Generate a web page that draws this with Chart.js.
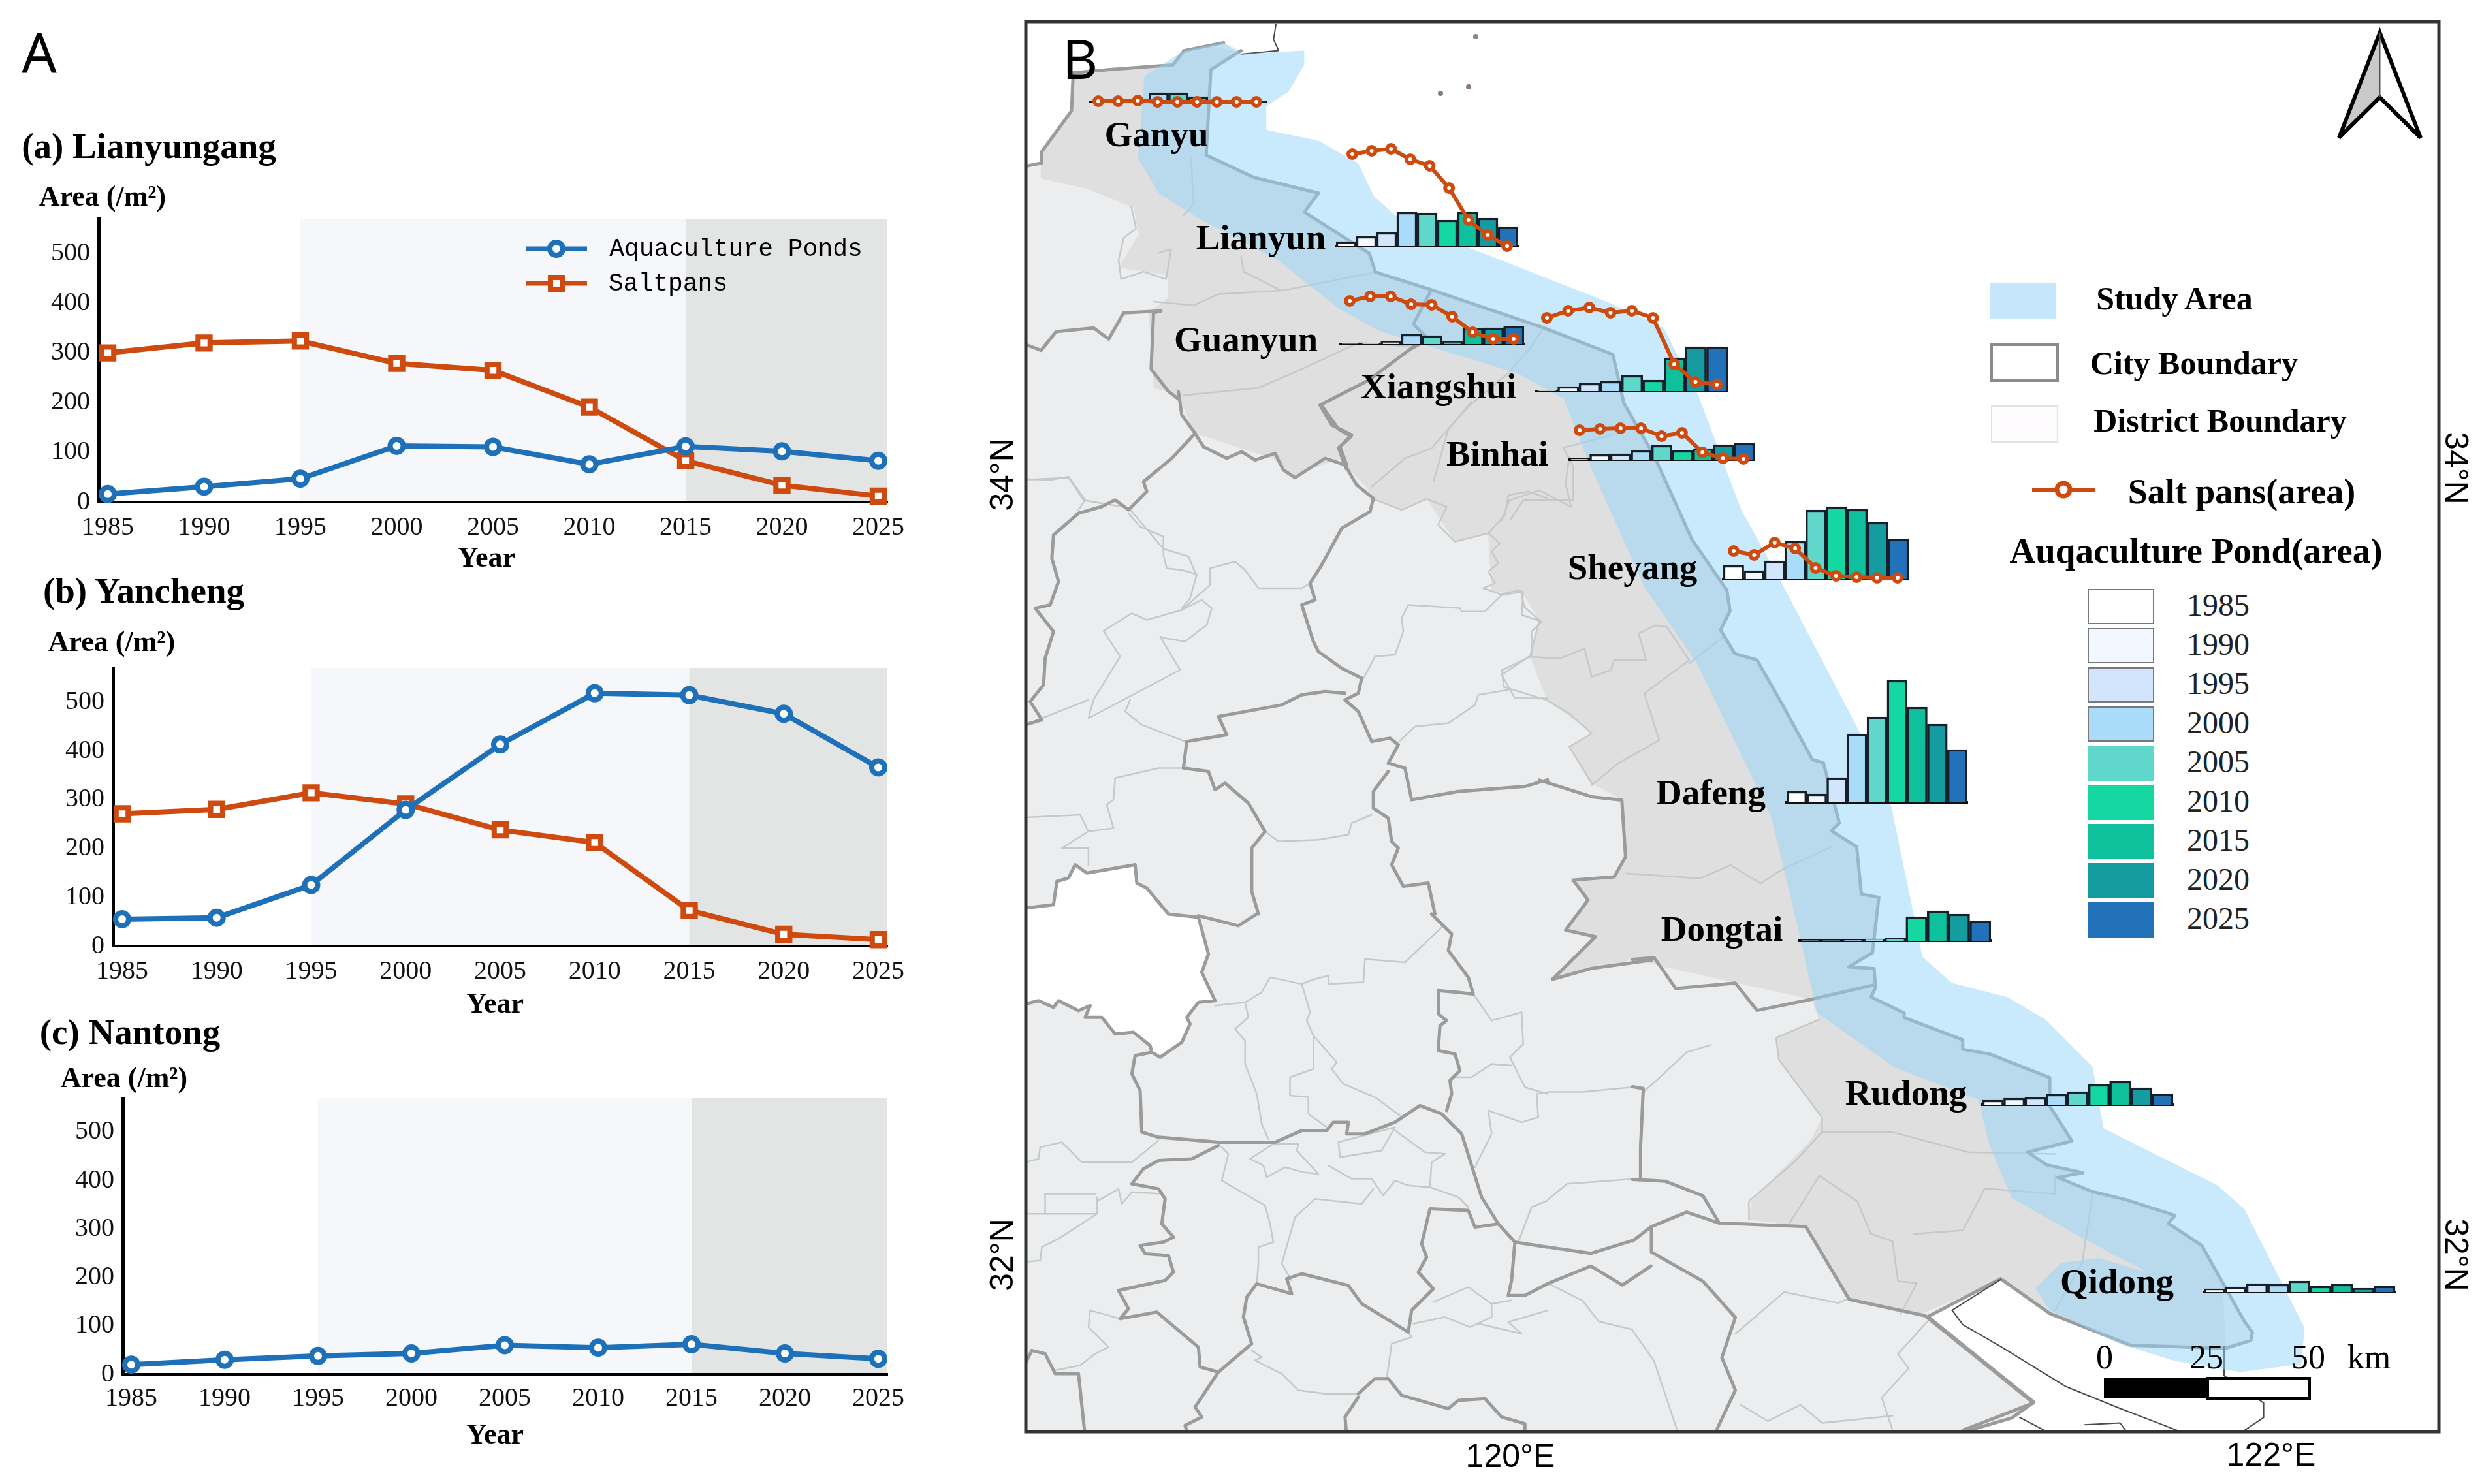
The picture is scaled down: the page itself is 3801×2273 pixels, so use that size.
<!DOCTYPE html>
<html>
<head>
<meta charset="utf-8">
<title>Aquaculture ponds and salt pans</title>
<script src="https://cdn.jsdelivr.net/npm/chart.js@4/dist/chart.umd.min.js"></script>
<style>
html,body{margin:0;padding:0;background:#fff;}
#page{position:relative;width:3801px;height:2273px;overflow:hidden;background:#fff;}
#page canvas,#page svg{position:absolute;}
.t{position:absolute;white-space:nowrap;color:#000;transform:translate(-50%,-50%);line-height:1;}
</style>
</head>
<body>
<div id="page"></div>
<script>
// line chart data
const years = [1985,1990,1995,2000,2005,2010,2015,2020,2025];
const areaTicks = [0,100,200,300,400,500];
const lianyungangPonds = [16,31,47,113,111,76,112,102,83];
const lianyungangSalt = [300,320,324,279,265,191,83,34,12];
const yanchengPonds = [55,58,125,279,413,518,514,476,366];
const yanchengSalt = [271,280,314,291,238,212,73,24,13];
const nantongPonds = [20,30,38,43,60,55,62,43,32];

// inset data on the map (relative area)
const ganyuPonds = [0.5,1,3,14,14,8,1,0.5,0.5];
const ganyuSalt = [1,1,2,0,0,0,0,0,0];
const lianyunPonds = [7,15,21,52,51,40,52,43,30];
const lianyunSalt = [141,146,149,133,123,89,40,17,0];
const guanyunPonds = [0.5,1,4,15,13,4,24,25,27];
const guanyunSalt = [66,73,73,61,60,42,18,8,8];
const xiangshuiPonds = [1,7,12,15,24,17,51,68,68];
const xiangshuiSalt = [112,123,128,120,123,112,41,14,10];
const binhaiPonds = [1,8,9,14,22,14,17,23,25];
const binhaiSalt = [45,47,48,48,36,41,11,2,1];
const sheyangPonds = [21,13,28,58,106,111,107,87,61];
const sheyangSalt = [43,37,56,47,17,5,3,2,2];
const dafengPonds = [17,13,38,105,131,187,146,120,81];
const dongtaiPonds = [0.5,0.5,1,3,4,37,46,41,30];
const rudongPonds = [7,10,11,16,20,31,36,26,16];
const qidongPonds = [5,8,13,12,17,9,12,6,9];

const rampColors = ['#ffffff','#f3f7ff','#d2e5fd','#aadbf8','#5fd8cb','#14d7a2','#0fc09c','#149ca0','#2272ba'];
const BLUE = '#1e70b8', ORANGE = '#cf4a0e';
const SERIF = '"Liberation Serif"';

const page = document.getElementById('page');

function text(str,x,y,font,extra){
  const d = document.createElement('div');
  d.className = 't';
  d.textContent = str;
  d.style.left = x+'px';
  d.style.top = y+'px';
  d.style.font = font;
  if(extra) Object.assign(d.style,extra);
  page.appendChild(d);
}

function addCanvas(x,y,w,h){
  const c = document.createElement('canvas');
  c.width = w; c.height = h;
  c.style.left = x+'px'; c.style.top = y+'px';
  c.style.width = w+'px'; c.style.height = h+'px';
  page.appendChild(c);
  return c;
}

// shaded periods behind the line charts, painted before the axes
const bands = {
  id:'bands',
  beforeDraw(chart){
    const {ctx,chartArea:a,scales:{x}} = chart;
    const x1 = x.getPixelForValue(1995), x2 = x.getPixelForValue(2015);
    ctx.save();
    ctx.fillStyle = '#f6f7fb';
    ctx.fillRect(x1,a.top,x2-x1,a.bottom-a.top);
    ctx.fillStyle = '#e3e5e5';
    ctx.fillRect(x2,a.top,a.right-x2,a.bottom-a.top);
    ctx.restore();
  }
};

function lineChart(area,series){
  const padTop = 30, under = 70, right = 1420;
  const c = addCanvas(0,area.top-padTop,right,area.base-area.top+padTop+under);
  const perYear = (area.last-area.first)/40;
  return new Chart(c,{
    type:'line',
    data:{datasets:series.map(s=>({
      label:s.label,
      data:years.map((y,i)=>({x:y,y:s.values[i]})),
      borderColor:s.color,
      borderWidth:8,
      pointStyle:s.shape,
      pointRadius:s.shape==='rect'?13:10,
      pointBorderWidth:8,
      pointBackgroundColor:'#fff',
      pointBorderColor:s.color,
      clip:false,
      tension:0
    }))},
    plugins:[bands],
    options:{
      responsive:false,animation:false,devicePixelRatio:1,
      layout:{padding:{top:padTop,right:right-1359,left:0,bottom:0}},
      plugins:{legend:{display:false},tooltip:{enabled:false}},
      scales:{
        x:{
          type:'linear',
          min:1985-(area.first-area.axis)/perYear,
          max:2025+(1359-area.last)/perYear,
          afterBuildTicks:s=>{s.ticks = years.map(v=>({value:v}));},
          afterFit:s=>{s.height = under;},
          grid:{display:false,drawTicks:false},
          border:{color:'#000',width:4},
          ticks:{color:'#111',font:{family:SERIF,size:40},padding:area.tickPad,maxRotation:0,autoSkip:false,callback:v=>String(v)}
        },
        y:{
          min:0,max:570,
          afterBuildTicks:s=>{s.ticks = areaTicks.map(v=>({value:v}));},
          afterFit:s=>{s.width = area.axis;},
          grid:{display:false,drawTicks:false},
          border:{color:'#000',width:5},
          ticks:{color:'#111',font:{family:SERIF,size:40},padding:13,callback:v=>String(v)}
        }
      }
    }
  });
}

lineChart({top:328,base:769,axis:151,first:165,last:1345,tickPad:15},[
  {label:'Aquaculture Ponds',values:lianyungangPonds,color:BLUE,shape:'circle'},
  {label:'Saltpans',values:lianyungangSalt,color:ORANGE,shape:'rect'}
]);
lineChart({top:1016,base:1449,axis:173,first:187,last:1345,tickPad:15},[
  {label:'Aquaculture Ponds',values:yanchengPonds,color:BLUE,shape:'circle'},
  {label:'Saltpans',values:yanchengSalt,color:ORANGE,shape:'rect'}
]);
lineChart({top:1675,base:2105,axis:188,first:201,last:1345,tickPad:13},[
  {label:'Aquaculture Ponds',values:nantongPonds,color:BLUE,shape:'circle'}
]);

// map, coordinates in a few local frames
const frames = {
  t:[0,0,2.424,2.424],
  z3:[1560,20,.7653,.574],
  z4:[2300,700,.574,.5102],
  z6:[2500,1400,.8297,.5568],
  z7:[1570,600,.5102,.5102],
  z8:[1570,1400,.5102,.5102]
};
function pts(frame,str){
  const f = frames[frame];
  return str.trim().split(/\s+/).map(p=>{
    const [x,y] = p.split(',').map(Number);
    return (f[0]+x*f[2]).toFixed(1)+','+(f[1]+y*f[3]).toFixed(1);
  }).join(' ');
}

const coast = '784,32 765,44 762,98 792,112 833,122 824,134 865,160 869,172 904,183 975,207 1019,224 1026,255 1045,288 1069,341 1091,373 1093,386 1087,398 1096,413 1110,417 1126,445 1145,480 1152,482 1162,520 1157,525 1173,535 1176,565 1187,567 1183,602 1168,611 1184,612 1185,624 1182,630 1203,640 1203,643 1240,657 1240,663 1257,666 1295,681 1295,699 1309,721 1281,728 1293,736 1316,741 1300,744 1322,753 1343,758 1374,768 1370,773 1391,787 1418,835 1423,842 1422,847 1406,852';
const landTop = '648,105 658,103 658,96 677,70 678,46 700,44 741,41 748,32 773,27';
const estuary = '1406,852 1346,850 1295,830 1264,808 1218,832 1285,886 1271,896 1240,905';
const studyArea = '784,34 824,32 824,41 814,58 800,67 800,82 833,89 858,103 868,124 887,141 937,160 1016,191 1051,207 1073,250 1100,322 1126,369 1174,461 1195,510 1214,602 1215,605 1233,621 1268,630 1292,644 1322,674 1329,713 1401,749 1418,764 1456,839 1454,862 1415,867 1374,860 1339,849 1295,828 1286,814 1302,798 1326,795 1357,804 1315,782 1271,757 1257,724 1250,695 1196,674 1148,640 1134,578 1119,516 1072,419 1039,371 1004,293 988,252 959,236 871,209 846,195 808,165 754,136 732,122 719,100 723,48 748,32 773,27';
const coastalCounties = '1644,112 1594,232 1594,273 1667,290 1736,318 1744,359 1713,410 1789,422 1789,456 1759,479 1767,594 1805,605 1828,663 1950,703 1977,729 2050,703 2095,749 2103,763 2147,781 2185,764 2228,830 2279,817 2284,906 2330,906 2357,950 2343,1006 2369,1072 2438,1123 2403,1144 2438,1200 2484,1225 2489,1312 2472,1343 2409,1348 2432,1379 2398,1424 2443,1435 2377,1500 2500,1470 2774,1531 2786,1561 2720,1589 2724,1623 2790,1712 2774,1745 2682,1840 2678,1868 2765,1879 2832,1990 2944,2012 3064,1960 3137,2010 3264,2060 3409,2065 3400,1900 3000,1000 2500,300 2000,100 1800,60';
const lake = '0,-18 85,-28 95,-98 130,-108 150,-148 185,-123 330,-148 335,-93 365,-78 430,0 520,10 550,120 530,175 570,260 520,265 485,310 495,330 470,385 405,430 380,415 375,395 325,355 270,360 230,310 180,310 195,275 160,290 100,260 85,280 40,260 0,270';

const cityLines = [
  ['z7','460,0 470,70 510,125 440,200 355,270 365,300 310,355 270,325 230,345 160,365 85,430 80,500 100,570 75,640 30,650 85,720 60,800 55,880 15,930 50,985 0,1000'],
  ['z7','510,125 535,165 605,200 650,180 690,205 750,185 775,235 810,258 900,200 960,220 995,280 1045,320 1035,360 950,410 890,520 855,575 870,625 830,640 865,750 880,780 950,830 1010,860 1000,905 960,925 1000,960 1040,1050 1095,1040 1120,1060 1090,1115 1140,1130 1160,1225 1300,1200 1500,1185 1568,1165'],
  ['z7','885,40 920,100 980,130 945,165 965,220'],
  ['z7','960,905 900,900 830,910 770,940 580,975 605,1030 485,1050 475,1130 550,1140 570,1195 600,1175 670,1235 720,1320 680,1370 680,1500 700,1568'],
  ['z7','1090,1140 1045,1200 1045,1250 1090,1280 1100,1350 1120,1370 1100,1420 1135,1485 1210,1475 1230,1568'],
  ['z4','100,970 240,1020 320,1030 330,1200 300,1260 190,1270 230,1330 170,1420 250,1440 135,1568'],
  ['z4','135,1568 240,1535 400,1510'],
  ['z8','520,5 640,35 695,0'],
  ['z8','380,415 330,425 320,480 345,530 350,655 400,670 580,685 750,685 830,650 905,650 925,625 970,625 965,660 1020,660 1110,625 1185,575 1250,600 1310,660 1370,850 1420,930 1470,985 1568,1000'],
  ['t','978,788 1005,792 1031,784'],
  ['z8','580,695 500,735 400,740 355,765 320,810 400,825 420,855 410,930 445,970 415,985 345,995 360,1020 430,1025 445,1075 420,1100 280,1130 310,1185 285,1215 395,1195 520,1300 525,1360 580,1375 680,1290 655,1210 665,1150 695,1110 800,1140 785,1095 830,1080 970,1115 1010,1170 1150,1255 1160,1190 1225,1125 1180,1075 1205,1030 1190,990 1215,885 1330,890 1350,940 1420,930'],
  ['z8','1470,985 1460,1100 1450,1145 1500,1145 1568,1110'],
  ['t','978,811 1005,800 1025,812 1043,800'],
  ['z8','580,1375 510,1480 530,1510 480,1535 490,1568'],
  ['z8','0,1350 20,1310 60,1320 90,1380 160,1380 180,1568'],
  ['z8','1000,1450 960,1510 965,1568'],
  ['z8','1000,1440 1050,1395 1090,1395 1130,1445 1270,1485 1300,1460 1380,1455 1430,1510 1500,1530 1500,1568'],
  ['z8','1220,0 1280,60 1270,110 1330,190 1345,240 1300,235 1240,230 1240,300 1265,320 1245,335 1240,410 1290,420 1305,470 1275,500 1280,540 1265,590'],
  ['z6','0,125 40,120 80,205 190,190 230,265 330,235 445,195'],
  ['z6','0,730 60,735 130,775 160,850 320,860 400,1060 540,1105 740,1345 610,1420'],
  ['z6','0,900 35,860 100,820 160,850'],
  ['z6','35,860 35,930 130,1010 190,1110 165,1220 190,1310 155,1420'],
  ['z6','0,475 20,480 15,640 15,730'],
  ['z3','270,800 285,795 210,800 180,870 150,840 75,850 45,900 15,885'],
  ['z3','270,800 265,950 300,1010 320,1030'],
  ['z3','790,890 700,980 605,1045 640,1110 665,1130 640,1160 655,1215'],
  ['z3','825,740 790,830 820,870 780,900'],
  ['t',landTop],
  ['t',coast],
  ['t',estuary]
];

const districtLines = [
  ['z7','0,262 75,265 130,255 180,325 160,355'],
  ['z7','310,365 345,405 415,435 415,490 425,530 470,535 515,548 495,620 470,650'],
  ['z7','470,655 555,580 555,530 630,510 660,535 700,590 830,590 855,575'],
  ['z7','235,718 320,665 365,685 470,655 530,625 560,650 545,700 480,750 420,740 405,735 465,835 190,980 205,925 285,795 235,718'],
  ['z7','0,1000 190,925'],
  ['z7','315,925 300,960 350,1000 480,1050'],
  ['z7','1040,320 1130,355 1205,322 1265,345 1240,400 1290,450 1390,425 1425,455 1400,480 1420,515 1390,540 1410,575 1375,590 1435,610 1495,600 1490,670 1550,690 1520,720 1520,790 1430,850 1470,920 1568,920'],
  ['z7','1430,610 1380,660 1310,660 1305,650 1150,640 1130,680 1135,720 1110,790 1050,795 1015,860'],
  ['z7','1125,1048 1170,1005 1270,995 1350,940 1360,910 1450,895'],
  ['z7','270,1160 400,1130 470,1130'],
  ['z7','270,1160 265,1225 245,1240 265,1310 190,1320 165,1270 0,1278'],
  ['z7','190,1320 110,1370 190,1370 190,1420'],
  ['z7','720,1320 760,1350 880,1345 970,1330 980,1295 1040,1270'],
  ['z7','1390,425 1440,370 1450,310 1510,300 1568,320'],
  ['z7','1040,285 1140,200 1220,170 1340,30'],
  ['z4','0,410 50,400 60,450 100,490 75,600'],
  ['z4','75,600 0,640 5,690 120,730 180,770 240,830 180,870 240,980'],
  ['z4','75,600 155,605 220,575 240,660 290,640 300,610 385,610 365,530 410,505 440,510 500,610 380,710 420,850 310,920 240,985'],
  ['z4','180,0 170,80 185,150 100,100 20,130 0,190'],
  ['z4','500,620 590,540'],
  ['z4','330,1250 530,1265 610,1225 690,1280 745,1240 880,1170'],
  ['z8','570,275 660,265 670,310 630,345 660,380 660,450 695,540 710,630 730,675'],
  ['z8','660,265 710,235 735,190 830,210 870,195 910,185 910,210 1015,205 1020,135 1140,145 1250,40'],
  ['z8','830,210 855,295 845,320 865,365 935,445 920,465 955,510 1050,550 1125,605'],
  ['z8','865,365 865,465 795,490 795,545 850,550 850,600 905,640'],
  ['z8','1110,640 1070,710 945,730 940,685 1110,640'],
  ['z8','1110,650 1200,715 1260,720 1220,745 1215,820'],
  ['z8','590,700 610,720 590,800 650,835 720,875 735,930 745,985 700,1000 700,1050 695,1110'],
  ['z8','675,735 745,690 820,690 815,710 880,780 835,775 780,760 725,790 715,755 675,735'],
  ['z8','910,755 980,795 1040,795 1075,845 1110,800 1150,815 1215,820 1300,850 1330,880'],
  ['z8','1045,825 1010,870 870,855 810,910 770,1050 800,1100'],
  ['z8','0,745 40,735 45,700 110,685 170,745 320,745 400,680'],
  ['z8','0,900 215,900 215,850'],
  ['z8','215,900 100,975 50,1000 45,1040 0,1045'],
  ['z8','60,900 60,840 210,840'],
  ['z8','220,860 280,825 290,870 320,835 410,840'],
  ['z8','285,1215 195,1190 190,1240 250,1300 210,1320 165,1355 90,1370'],
  ['z8','680,1310 710,1330 690,1340 770,1380 820,1430 900,1440 1005,1440'],
  ['z8','1085,1395 1100,1290 1160,1270 1150,1255'],
  ['z8','1225,1165 1330,1120 1400,1170 1460,1160'],
  ['z8','1165,1230 1260,1210 1335,1240 1400,1210 1400,1170'],
  ['z8','1360,1230 1490,1260 1450,1225 1568,1190'],
  ['z8','1345,240 1400,320 1490,295 1495,390 1455,430 1500,520 1568,540'],
  ['z8','1290,490 1340,490 1400,450 1460,455'],
  ['z8','1350,760 1400,660 1390,590 1490,625 1540,610 1535,540 1568,535'],
  ['z8','1480,985 1520,880 1568,860'],
  ['t','978,690 1000,690 1031,687'],
  ['t','978,758 990,748 1031,745'],
  ['t','978,811 1000,822 1010,835 1031,840 1045,860 1060,905'],
  ['z6','345,290 265,340 270,400 350,560 350,600 300,680 215,790 215,840'],
  ['z6','145,360 100,380 50,450 20,490'],
  ['z6','350,600 480,600 620,655 780,660'],
  ['z6','345,720 290,850'],
  ['z6','345,720 415,790 440,880 480,900 490,1010 525,1015 495,1100'],
  ['z6','520,880 610,870 650,755 780,770 780,720'],
  ['z6','850,765 830,960 780,1090'],
  ['z6','190,1155 280,1040 380,1070 395,1060'],
  ['z6','545,1120 490,1210 510,1250 460,1330 480,1420'],
  ['z6','200,1350 250,1395 310,1350 350,1400 480,1380'],
  ['z3','225,515 235,575 210,600 200,660 205,710 250,690 295,710 305,630 280,640'],
  ['z3','345,385 350,510 330,540'],
  ['z3','445,650 450,690 525,740'],
  ['z3','270,770 350,780 400,750 530,740 720,690'],
  ['z3','330,1020 480,1000 550,960 680,880 790,890'],
  ['z3','17,1245 100,1240 130,1300 220,1320 290,1430 340,1450 355,1500'],
  ['z3','1050,840 1020,900 980,960 900,1050 860,1110 830,1250'],
  ['z3','1190,1125 1090,1160 1110,1210 1110,1300 1010,1300 985,1350']
];

const riverLines = [
  ['z6','590,1090 610,1130 680,1190 800,1300 900,1360 1005,1420'],
  ['z6','590,1090 680,1005'],
  ['z6','1092,1190 1092,1270 1165,1345 1165,1385 1130,1420'],
  ['z6','835,1405 900,1400 910,1420'],
  ['z6','715,1385 760,1420'],
  ['z3','515,30 510,70 520,100 445,110']
];

function poly(frame,list,style){ return `<polygon points="${pts(frame,list)}" ${style}/>`; }
function line(item,style){ return `<polyline points="${pts(item[0],item[1])}" fill="none" stroke-linejoin="round" stroke-linecap="round" ${style}/>`; }

const land = landTop+' 784,32 '+coast+' '+estuary+' 648,905';
let svg = `<svg width="3801" height="2273" style="left:0;top:0">
<defs><clipPath id="mapClip"><rect x="1571" y="33" width="2164" height="2160"/></clipPath></defs>
<g clip-path="url(#mapClip)">`;
svg += poly('t',land,'fill="#ecedee"');
svg += `<clipPath id="landClip"><polygon points="${pts('t',land)}"/></clipPath>`;
svg += `<g clip-path="url(#landClip)">`+poly('t',coastalCounties.split(' ').map(p=>p.split(',').map(v=>v/2.424).join(',')).join(' '),'fill="#dfdfdf"')+`</g>`;
svg += poly('z8',lake,'fill="#fff" stroke="#9b9b9b" stroke-width="5" stroke-linejoin="round"');
districtLines.forEach(l=>{svg += line(l,'stroke="#c6c9c9" stroke-width="2.5"');});
cityLines.forEach(l=>{svg += line(l,'stroke="#9b9b9b" stroke-width="5"');});
riverLines.forEach(l=>{svg += line(l,'stroke="#4a4a4a" stroke-width="2"');});
svg += poly('t',studyArea,'fill="rgba(148,214,250,.5)"');
svg += `<circle cx="2260" cy="56" r="4" fill="#888"/><circle cx="2249" cy="133" r="4" fill="#8a7a80"/><circle cx="2206" cy="143" r="4" fill="#8a7a80"/>`;
svg += `</g><rect x="1571" y="33" width="2164" height="2160" fill="none" stroke="#333" stroke-width="5"/>`;

// north arrow
svg += `<polygon points="3644.5,50 3582,211 3644.5,149" fill="#c9c9c9"/>
<polygon points="3644.5,50 3582,211 3644.5,149 3707,211" fill="none" stroke="#000" stroke-width="6" stroke-linejoin="miter"/>
<line x1="3644.5" y1="50" x2="3644.5" y2="149" stroke="#555" stroke-width="2"/>`;

// scale bar
svg += `<rect x="3222" y="2111" width="159" height="31" fill="#000"/><rect x="3381" y="2111" width="156" height="31" fill="#fff" stroke="#000" stroke-width="4"/>`;

// map legend swatches
svg += `<rect x="3048" y="433" width="100" height="56" fill="#c5e6fb"/>
<rect x="3050" y="528" width="101" height="55" fill="#fff" stroke="#8d8a8d" stroke-width="4"/>
<rect x="3050" y="622" width="101" height="55" fill="#fdfbfd" stroke="#e4e2e4" stroke-width="2"/>
<line x1="3112" y1="750" x2="3208" y2="750" stroke="${ORANGE}" stroke-width="6"/>
<circle cx="3160" cy="750" r="10" fill="#fff" stroke="${ORANGE}" stroke-width="7"/>`;
rampColors.forEach((col,i)=>{
  const edge = i<4 ? '#77797c' : col;
  svg += `<rect x="3198" y="${903+i*60}" width="100" height="52" fill="${col}" stroke="${edge}" stroke-width="2"/>`;
});
svg += `</svg>`;
const holder = document.createElement('div');
holder.innerHTML = svg;
page.insertBefore(holder.firstChild,page.firstChild);

// legend of panel a goes above its canvas
const legendHolder = document.createElement('div');
legendHolder.innerHTML = `<svg width="1000" height="500" style="left:0;top:0">
<line x1="806" y1="381" x2="899" y2="381" stroke="${BLUE}" stroke-width="7"/>
<circle cx="852" cy="381" r="10" fill="#fff" stroke="${BLUE}" stroke-width="8"/>
<line x1="806" y1="434" x2="899" y2="434" stroke="${ORANGE}" stroke-width="7"/>
<rect x="843" y="425" width="18" height="18" fill="#fff" stroke="${ORANGE}" stroke-width="8"/></svg>`;
page.appendChild(legendHolder.firstChild);

// bar + salt pan insets on the map
function inset(ponds,salt,box){
  const pad = 14, h = Math.max(...ponds,...(salt||[0]))+2;
  const w = box.right-box.left;
  const c = addCanvas(box.left-pad,box.base-h-pad,w+pad*2,h+pad*2);
  const datasets = [{
    type:'bar',data:ponds,order:2,grouped:false,barThickness:w/years.length,
    backgroundColor:rampColors,borderColor:'#16202a',borderWidth:3.5,
    barPercentage:1,categoryPercentage:1,xAxisID:'x'
  }];
  let xs = {type:'linear',display:false};
  if(salt){
    const perYear = (box.saltR-box.saltL)/40;
    xs = {type:'linear',display:false,min:1985-(box.saltL-box.left)/perYear,max:2025+(box.right-box.saltR)/perYear};
    datasets.push({
      type:'line',data:years.map((y,i)=>({x:y,y:salt[i]})),order:1,xAxisID:'xs',
      borderColor:ORANGE,borderWidth:6,tension:0,clip:false,
      pointRadius:6,pointBorderWidth:6,pointBackgroundColor:'#fff',pointBorderColor:ORANGE
    });
  }
  return new Chart(c,{
    data:{labels:years,datasets},
    options:{
      responsive:false,animation:false,devicePixelRatio:1,
      layout:{padding:pad},
      plugins:{legend:{display:false},tooltip:{enabled:false}},
      scales:{
        x:{afterFit:s=>{s.height = 0;},grid:{display:false,drawTicks:false},ticks:{display:false},border:{color:'#111',width:4}},
        xs,
        y:{display:false,min:0,max:h}
      }
    }
  });
}
inset(ganyuPonds,ganyuSalt,{left:1669,right:1940,base:156,saltL:1682,saltR:1924});
inset(lianyunPonds,lianyunSalt,{left:2046,right:2325,base:377,saltL:2071,saltR:2308});
inset(guanyunPonds,guanyunSalt,{left:2052,right:2334,base:527,saltL:2067,saltR:2318});
inset(xiangshuiPonds,xiangshuiSalt,{left:2353,right:2646,base:599,saltL:2369,saltR:2629});
inset(binhaiPonds,binhaiSalt,{left:2403,right:2687,base:704,saltL:2419,saltR:2670});
inset(sheyangPonds,sheyangSalt,{left:2639,right:2923,base:887,saltL:2655,saltR:2906});
inset(dafengPonds,null,{left:2736,right:3013,base:1229});
inset(dongtaiPonds,null,{left:2756,right:3049,base:1441});
inset(rudongPonds,null,{left:3036,right:3328,base:1692});
inset(qidongPonds,null,{left:3375,right:3668,base:1979});

// left side text
const head = 'bold 55px '+SERIF, axisT = 'bold 44px '+SERIF;
text('A',60,79,'84px "Noto Sans"');
text('(a) Lianyungang',228,223,head);
text('Area (/m²)',157,300,axisT);
text('Year',745,853,axisT);
text('Aquaculture Ponds',1127,381,'38px "Liberation Mono"');
text('Saltpans',1023,434,'38px "Liberation Mono"');
text('(b) Yancheng',220,904,head);
text('Area (/m²)',171,982,axisT);
text('Year',758,1536,axisT);
text('(c) Nantong',199,1580,head);
text('Area (/m²)',190,1650,axisT);
text('Year',758,2196,axisT);

// map text
text('B',1654,88,'84px "Noto Sans"');
const place = 'bold 55px '+SERIF;
[['Ganyu',1771,205],['Lianyun',1931,363],['Guanyun',1908,519],['Xiangshui',2203,591],['Binhai',2293,694],
 ['Sheyang',2500,868],['Dafeng',2620,1213],['Dongtai',2637,1422],['Rudong',2919,1673],['Qidong',3242,1962]]
  .forEach(p=>text(p[0],p[1],p[2],place));
const leg = 'bold 50px '+SERIF;
text('Study Area',3330,457,leg);
text('City Boundary',3360,556,leg);
text('District Boundary',3400,644,leg);
text('Salt pans(area)',3433,753,'bold 54px '+SERIF);
text('Auqaculture Pond(area)',3363,843,'bold 55px '+SERIF);
years.forEach((y,i)=>text(String(y),3397,926+i*60,'48px '+SERIF,{color:'#222'}));
const geo = '50px "Liberation Sans"';
text('34°N',1534,727,geo,{transform:'translate(-50%,-50%) rotate(-90deg)'});
text('32°N',1534,1922,geo,{transform:'translate(-50%,-50%) rotate(-90deg)'});
text('34°N',3762,717,geo,{transform:'translate(-50%,-50%) rotate(90deg)'});
text('32°N',3762,1922,geo,{transform:'translate(-50%,-50%) rotate(90deg)'});
text('120°E',2313,2230,geo);
text('122°E',3478,2228,geo);
const sc = '52px '+SERIF;
text('0',3223,2078,sc);
text('25',3379,2078,sc);
text('50',3535,2078,sc);
text('km',3628,2078,sc);
</script>
</body>
</html>
